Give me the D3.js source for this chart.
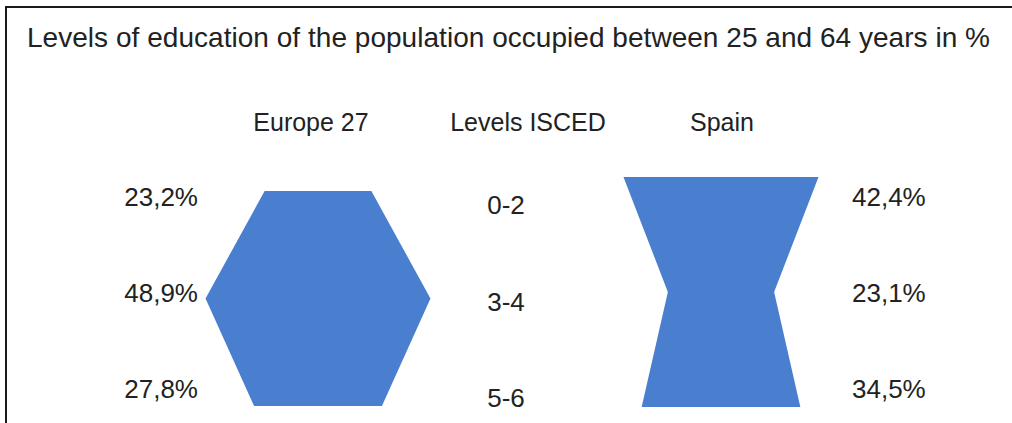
<!DOCTYPE html>
<html>
<head>
<meta charset="utf-8">
<script src="https://cdn.jsdelivr.net/npm/d3@7"></script>
<style>
  body { margin: 0; background: #fff; }
  svg { display: block; }
  text { font-family: "Liberation Sans", Arial, sans-serif; fill: #222; }
</style>
</head>
<body>
<svg id="chart" width="1012" height="423"></svg>
<script>
// Data
let title = 'Levels of education of the population occupied between 25 and 64 years in %';
let levels = ['0-2', '3-4', '5-6'];
let europeValues = [23.2, 48.9, 27.8];
let spainValues = [42.4, 23.1, 34.5];
let headers = ['Europe 27', 'Levels ISCED', 'Spain'];

let svg = d3.select('#chart');

// frame around the whole figure (runs off the right and bottom edges)
svg.append('rect')
    .attr('x', 6)
    .attr('y', 7)
    .attr('width', 1030)
    .attr('height', 440)
    .style('fill', 'none')
    .style('stroke', '#1a1a1a')
    .style('stroke-width', 2);

svg.append('text')
    .attr('x', 27)
    .attr('y', 47)
    .attr('textLength', 963)
    .attr('lengthAdjust', 'spacing')
    .style('font-size', '28px')
    .text(title);

// one shared scale for the widths of both shapes
let width = d3.scaleLinear().domain([0, 50]).range([0, 230]);

let panels = [
  {name: headers[0], values: europeValues, cx: 318, rows: [191, 406],
   labelX: 198, anchor: 'end'},
  {name: headers[2], values: spainValues, cx: 721, rows: [177, 407],
   labelX: 852, anchor: 'start'},
];

// header row
let headerX = {'Europe 27': 311, 'Levels ISCED': 528, 'Spain': 722};
svg.selectAll('text.header')
    .data(headers)
    .join('text')
    .attr('class', 'header')
    .attr('x', d => headerX[d])
    .attr('y', 131)
    .attr('text-anchor', 'middle')
    .style('font-size', '25px')
    .text(d => d);

// percent labels sit on one row scale, level names on another
let labelY = d3.scalePoint().domain(levels).range([206, 398]);
let levelY = d3.scalePoint().domain(levels).range([214, 407]);

panels.forEach(p => {
  let y = d3.scalePoint().domain(levels).range(p.rows);
  let rows = levels.map((lv, i) => ({level: lv, value: p.values[i]}));
  let left = rows.map(r => [p.cx - width(r.value) / 2, y(r.level)]);
  let right = rows.map(r => [p.cx + width(r.value) / 2, y(r.level)]).reverse();

  svg.append('path')
      .attr('d', d3.line()(left.concat(right)) + 'Z')
      .style('fill', '#4a7fd0');

  svg.selectAll(null)
      .data(rows)
      .join('text')
      .attr('x', p.labelX)
      .attr('y', r => labelY(r.level))
      .attr('text-anchor', p.anchor)
      .style('font-size', '26px')
      .text(r => d3.format('.1f')(r.value).replace('.', ',') + '%');
});

svg.selectAll('text.level')
    .data(levels)
    .join('text')
    .attr('class', 'level')
    .attr('x', 506)
    .attr('y', d => levelY(d))
    .attr('text-anchor', 'middle')
    .style('font-size', '26px')
    .text(d => d);
</script>
</body>
</html>
